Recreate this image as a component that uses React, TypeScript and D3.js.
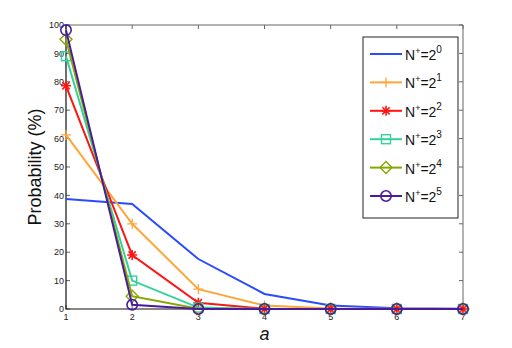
import React, { useRef, useEffect } from 'react';
import * as d3 from 'd3';

const aValues = [1, 2, 3, 4, 5, 6, 7];
const yTicks = [0, 10, 20, 30, 40, 50, 60, 70, 80, 90, 100];
const seriesNames = ['0', '1', '2', '3', '4', '5'];
const seriesColors = ['#2b4bff', '#ffa53a', '#ff1414', '#33d19b', '#86a800', '#4a1c9c'];
const seriesMarkers = ['none', 'plus', 'star', 'square', 'diamond', 'circle'];
const n1 = [38.7, 37.0, 17.6, 5.3, 1.2, 0.3, 0.1];
const n2 = [61.3, 30.0, 7.0, 1.2, 0.2, 0.05, 0];
const n4 = [78.6, 19.0, 2.2, 0.1, 0, 0, 0];
const n8 = [89.0, 10.0, 0.5, 0, 0, 0, 0];
const n16 = [95.0, 4.5, 0.1, 0, 0, 0, 0];
const n32 = [98.2, 1.5, 0, 0, 0, 0, 0];
const seriesValues = [n1, n2, n4, n8, n16, n32];

function drawMarker(g: any, kind: string, x: number, y: number, color: string) {
  const s = 5;
  if (kind === 'plus') {
    g.append('path').attr('d', `M${x - s},${y}H${x + s}M${x},${y - s}V${y + s}`)
      .attr('stroke', color).attr('stroke-width', 1.3).attr('fill', 'none');
  } else if (kind === 'star') {
    const d = s * 0.72;
    g.append('path')
      .attr('d', `M${x - s},${y}H${x + s}M${x},${y - s}V${y + s}M${x - d},${y - d}L${x + d},${y + d}M${x - d},${y + d}L${x + d},${y - d}`)
      .attr('stroke', color).attr('stroke-width', 1.6).attr('fill', 'none');
  } else if (kind === 'square') {
    g.append('rect').attr('x', x - 4.5).attr('y', y - 4.5).attr('width', 9).attr('height', 9)
      .attr('stroke', color).attr('stroke-width', 1.4).attr('fill', 'none');
  } else if (kind === 'diamond') {
    g.append('path').attr('d', `M${x},${y - 6}L${x + 6},${y}L${x},${y + 6}L${x - 6},${y}Z`)
      .attr('stroke', color).attr('stroke-width', 1.4).attr('fill', 'none');
  } else if (kind === 'circle') {
    g.append('circle').attr('cx', x).attr('cy', y).attr('r', 5.2)
      .attr('stroke', color).attr('stroke-width', 1.6).attr('fill', 'none');
  }
}

export default function App() {
  const svgRef = useRef<SVGSVGElement>(null);

  useEffect(() => {
    const width = 512;
    const height = 348;
    const left = 66, right = 463, top = 25, bottom = 309;

    const svg = d3.select(svgRef.current);
    svg.selectAll('*').remove();
    svg.attr('width', width).attr('height', height)
      .style('font-family', '"Liberation Sans", Arial, sans-serif');

    svg.append('rect').attr('width', width).attr('height', height).attr('fill', 'white');

    const x = d3.scaleLinear().domain([1, 7]).range([left, right]);
    const y = d3.scaleLinear().domain([0, 100]).range([bottom, top]);

    // box top & right
    svg.append('path').attr('d', `M${left},${top}H${right}V${bottom}`)
      .attr('stroke', '#666').attr('fill', 'none').attr('stroke-width', 1);

    // ticks
    const tk = svg.append('g');
    aValues.forEach(v => {
      tk.append('line').attr('x1', x(v)).attr('x2', x(v)).attr('y1', bottom).attr('y2', bottom - 4).attr('stroke', '#666');
      tk.append('line').attr('x1', x(v)).attr('x2', x(v)).attr('y1', top).attr('y2', top + 4).attr('stroke', '#666');
      tk.append('text').attr('x', x(v)).attr('y', bottom + 11).attr('text-anchor', 'middle')
        .attr('font-size', 9).attr('fill', '#222').text(v);
    });
    yTicks.forEach(v => {
      tk.append('line').attr('x1', left).attr('x2', left + 4).attr('y1', y(v)).attr('y2', y(v)).attr('stroke', '#666');
      tk.append('line').attr('x1', right).attr('x2', right - 4).attr('y1', y(v)).attr('y2', y(v)).attr('stroke', '#666');
      tk.append('text').attr('x', left - 2).attr('y', y(v)).attr('dy', '0.35em').attr('text-anchor', 'end')
        .attr('font-size', 9).attr('fill', '#222').text(v);
    });

    // left & bottom axis lines
    svg.append('path').attr('d', `M${left},${top}V${bottom}H${right}`)
      .attr('stroke', '#111').attr('fill', 'none').attr('stroke-width', 1.2);

    const line = d3.line<number>().x((d, i) => x(aValues[i])).y(d => y(d));

    seriesValues.forEach((vals, si) => {
      const g = svg.append('g');
      g.append('path').datum(vals).attr('d', line).attr('fill', 'none')
        .attr('stroke', seriesColors[si]).attr('stroke-width', 2);
      vals.forEach((v, i) => drawMarker(g, seriesMarkers[si], x(aValues[i]), y(v), seriesColors[si]));
    });

    // axis labels
    svg.append('text').attr('transform', `translate(41,${(top + bottom) / 2}) rotate(-90)`)
      .attr('text-anchor', 'middle').attr('font-size', 18).attr('fill', '#111').text('Probability (%)');
    svg.append('text').attr('x', (left + right) / 2).attr('y', 340).attr('text-anchor', 'middle')
      .attr('font-size', 18).attr('font-style', 'italic').attr('fill', '#111').text('a');

    // legend
    const lg = svg.append('g');
    lg.append('rect').attr('x', 363).attr('y', 37).attr('width', 95).attr('height', 181)
      .attr('fill', 'white').attr('stroke', '#222').attr('stroke-width', 1);
    seriesNames.forEach((name, i) => {
      const ly = 54 + i * 28.4;
      lg.append('line').attr('x1', 370).attr('x2', 402).attr('y1', ly).attr('y2', ly)
        .attr('stroke', seriesColors[i]).attr('stroke-width', 2);
      drawMarker(lg, seriesMarkers[i], 386, ly, seriesColors[i]);
      const t = lg.append('text').attr('x', 405).attr('y', ly + 6).attr('font-size', 14).attr('fill', '#111');
      t.append('tspan').text('N');
      t.append('tspan').attr('dy', -6).attr('font-size', 9).text('+');
      t.append('tspan').attr('dy', 6).text('=2');
      t.append('tspan').attr('dy', -7).attr('font-size', 10).text(name);
    });
  }, []);

  return <svg ref={svgRef} style={{ position: 'absolute', left: 0, top: 0 }}></svg>;
}
